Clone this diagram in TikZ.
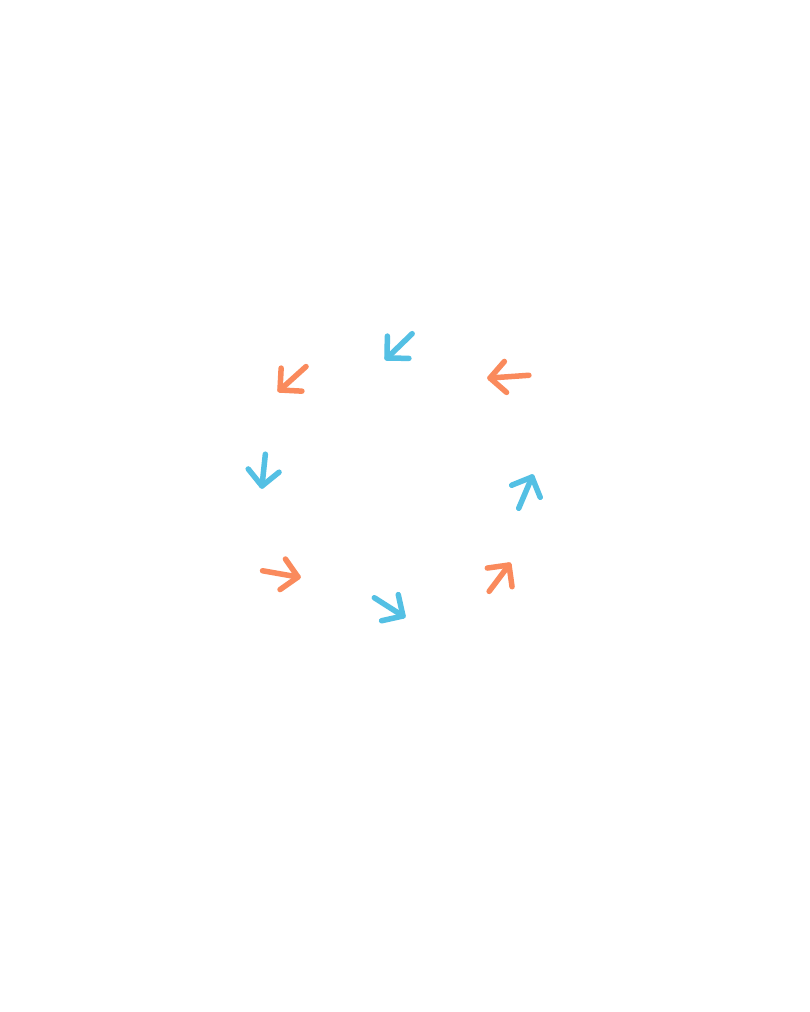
\documentclass[tikz,border=0pt]{standalone}
\definecolor{skyb}{RGB}{84,192,228}
\definecolor{coral}{RGB}{250,138,92}
\tikzset{
  glyph/.style={line width=5.5pt, line cap=round, line join=round},
}
\newcommand\arrowglyph[5]{%
  \begin{scope}[shift={(#2,#3)}, rotate=#4]
    \draw[glyph, #1] (-#5,0) -- (0,0);
    \draw[glyph, #1] (-15.5,15.5) -- (0,0) -- (-15.5,-15.5);
  \end{scope}}
\begin{document}
\begin{tikzpicture}[x=1pt,y=-1pt]
\fill[white] (0,0) rectangle (810,1012);
\useasboundingbox (0,0) rectangle (810,1012);
\arrowglyph{skyb}{387}{358}{224}{35}
\arrowglyph{coral}{280}{390}{222}{35}
\arrowglyph{coral}{490}{378}{184}{39}
\arrowglyph{skyb}{262}{486}{264}{32}
\arrowglyph{skyb}{532}{477}{67}{34}
\arrowglyph{coral}{298}{577}{-10}{36}
\arrowglyph{skyb}{403}{616}{-32.5}{34}
\arrowglyph{coral}{509}{565}{53}{33}
\end{tikzpicture}
\end{document}
